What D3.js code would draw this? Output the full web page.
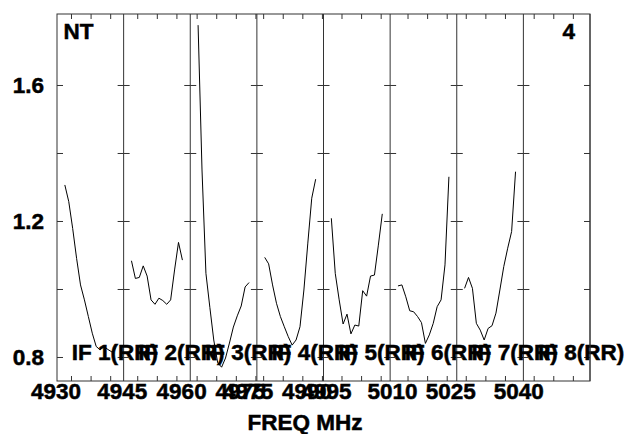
<!DOCTYPE html>
<html>
<head>
<meta charset="utf-8">
<script src="https://cdn.jsdelivr.net/npm/d3@7"></script>
<style>
  body { margin: 0; background: #fff; }
  text { font-family: "Liberation Sans", Arial, sans-serif; font-weight: bold; fill: #000; stroke: #000; stroke-width: 0.5px; }
</style>
</head>
<body>
<div id="chart"></div>
<script>
// one panel per IF
const ifNames = ["IF 1(RR)", "IF 2(RR)", "IF 3(RR)", "IF 4(RR)", "IF 5(RR)", "IF 6(RR)", "IF 7(RR)", "IF 8(RR)"];
const ifStartMHz = [4926.43, 4941.53, 4958.37, 4973.40, 4990.41, 5005.56, 5022.70, 5037.37];
const ifSpanMHz = 17;
const channels = [1, 2, 3, 4, 5, 6, 7, 8, 9, 10, 11, 12, 13, 14];

const ampIF1 = [1.306, 1.257, 1.178, 1.090, 1.012, 0.968, 0.919, 0.870, 0.831, 0.821, 0.831, 0.822, 0.815, 0.825];
const ampIF2 = [1.083, 1.031, 1.034, 1.068, 1.038, 0.968, 0.955, 0.973, 0.966, 0.955, 0.968, 1.056, 1.137, 1.085];
const ampIF3 = [1.776, 1.350, 1.046, 0.946, 0.850, 0.783, 0.770, 0.797, 0.841, 0.888, 0.921, 0.950, 1.006, 1.019];
const ampIF4 = [1.093, 1.074, 1.012, 0.958, 0.919, 0.889, 0.860, 0.835, 0.850, 0.889, 0.997, 1.135, 1.267, 1.323];
const ampIF5 = [1.208, 1.046, 0.968, 0.897, 0.926, 0.868, 0.894, 0.891, 0.995, 0.979, 1.038, 1.041, 1.129, 1.221];
const ampIF6 = [1.009, 1.012, 0.977, 0.936, 0.933, 0.919, 0.901, 0.840, 0.865, 0.899, 0.948, 0.968, 1.071, 1.330];
const ampIF7 = [1.002, 1.034, 1.002, 0.899, 0.879, 0.850, 0.884, 0.892, 0.929, 0.997, 1.066, 1.120, 1.169, 1.345];
const ampIF8 = [];
const amps = [ampIF1, ampIF2, ampIF3, ampIF4, ampIF5, ampIF6, ampIF7, ampIF8];

const xLabelTicks = [[4930], [4945], [4960, 4975], [4975, 4990], [4995], [5010], [5025], [5040]];
const yTickValues = [0.8, 1.0, 1.2, 1.4, 1.6];
const yLabelValues = [0.8, 1.2, 1.6];

const svgWidth = 634;
const svgHeight = 434;
const frame = { left: 57, right: 590, top: 14, bottom: 381 };
const fontSize = 22.5;

const svg = d3.select("#chart").append("svg")
  .attr("width", svgWidth)
  .attr("height", svgHeight);

const yScale = d3.scaleLinear()
  .domain([0.7294, 1.8088])
  .range([frame.bottom, frame.top]);

const panelX = d3.scaleBand()
  .domain(d3.range(ifNames.length))
  .range([frame.left, frame.right])
  .padding(0);

const line = d3.line();

ifNames.forEach((name, i) => {
  const x0 = panelX(i);
  const x1 = x0 + panelX.bandwidth();
  const start = ifStartMHz[i];
  const fx = d3.scaleLinear().domain([start, start + ifSpanMHz]).range([x0, x1]);
  const cx = d3.scaleLinear().domain([-1, 16]).range([x0, x1]);
  const minor = d3.range(Math.ceil(start / 5) * 5, start + ifSpanMHz, 5);

  const g = svg.append("g");

  // frequency ticks, top and bottom, pointing in
  g.append("g")
    .attr("transform", `translate(0,${frame.bottom})`)
    .call(d3.axisBottom(fx).tickValues(minor).tickSize(-5).tickFormat(""))
    .call(a => a.select(".domain").remove());
  g.append("g")
    .attr("transform", `translate(0,${frame.top})`)
    .call(d3.axisTop(fx).tickValues(minor).tickSize(-5).tickFormat(""))
    .call(a => a.select(".domain").remove());

  // amplitude ticks on both sides of the panel
  g.append("g")
    .attr("transform", `translate(${x0},0)`)
    .call(d3.axisLeft(yScale).tickValues(yTickValues).tickSize(-6).tickFormat(""))
    .call(a => a.select(".domain").remove());
  g.append("g")
    .attr("transform", `translate(${x1},0)`)
    .call(d3.axisRight(yScale).tickValues(yTickValues).tickSize(-6).tickFormat(""))
    .call(a => a.select(".domain").remove());

  g.selectAll(".tick line").attr("stroke", "#333");

  // panel divider
  g.append("line")
    .attr("x1", x1).attr("x2", x1)
    .attr("y1", frame.top).attr("y2", frame.bottom)
    .attr("stroke", "#333");

  // spectrum
  const pts = amps[i].map((v, k) => [cx(channels[k]), yScale(v)]);
  if (pts.length) {
    g.append("path")
      .attr("d", line(pts))
      .attr("fill", "none")
      .attr("stroke", "#000")
      .attr("stroke-width", 1);
  }

  // frequency labels (drawn left of their tick, as the original does)
  g.selectAll(".flab")
    .data(xLabelTicks[i])
    .enter().append("text")
    .attr("class", "flab")
    .attr("x", d => fx(d) - 15)
    .attr("y", 398.5)
    .attr("text-anchor", "middle")
    .attr("font-size", fontSize)
    .text(d => d);

  g.append("text")
    .attr("x", x0 + 14.7)
    .attr("y", 359.5)
    .attr("font-size", fontSize)
    .text(name);
});

// outer frame
svg.append("rect")
  .attr("x", frame.left).attr("y", frame.top)
  .attr("width", frame.right - frame.left)
  .attr("height", frame.bottom - frame.top)
  .attr("fill", "none")
  .attr("stroke", "#333");

// amplitude labels
svg.append("g")
  .attr("transform", `translate(${frame.left},0)`)
  .call(d3.axisLeft(yScale).tickValues(yLabelValues).tickSize(0).tickPadding(13).tickFormat(d3.format(".1f")))
  .call(a => a.select(".domain").remove())
  .call(a => a.selectAll("text")
    .attr("font-size", fontSize)
    .attr("font-family", "Liberation Sans, Arial, sans-serif")
    .attr("font-weight", "bold")
    .attr("fill", "#000"));

svg.append("text")
  .attr("x", 305)
  .attr("y", 430)
  .attr("text-anchor", "middle")
  .attr("font-size", fontSize)
  .text("FREQ MHz");

svg.append("text")
  .attr("x", 63.5)
  .attr("y", 39)
  .attr("font-size", fontSize)
  .text("NT");

svg.append("text")
  .attr("x", 575)
  .attr("y", 39)
  .attr("text-anchor", "end")
  .attr("font-size", fontSize)
  .text("4");
</script>
</body>
</html>
